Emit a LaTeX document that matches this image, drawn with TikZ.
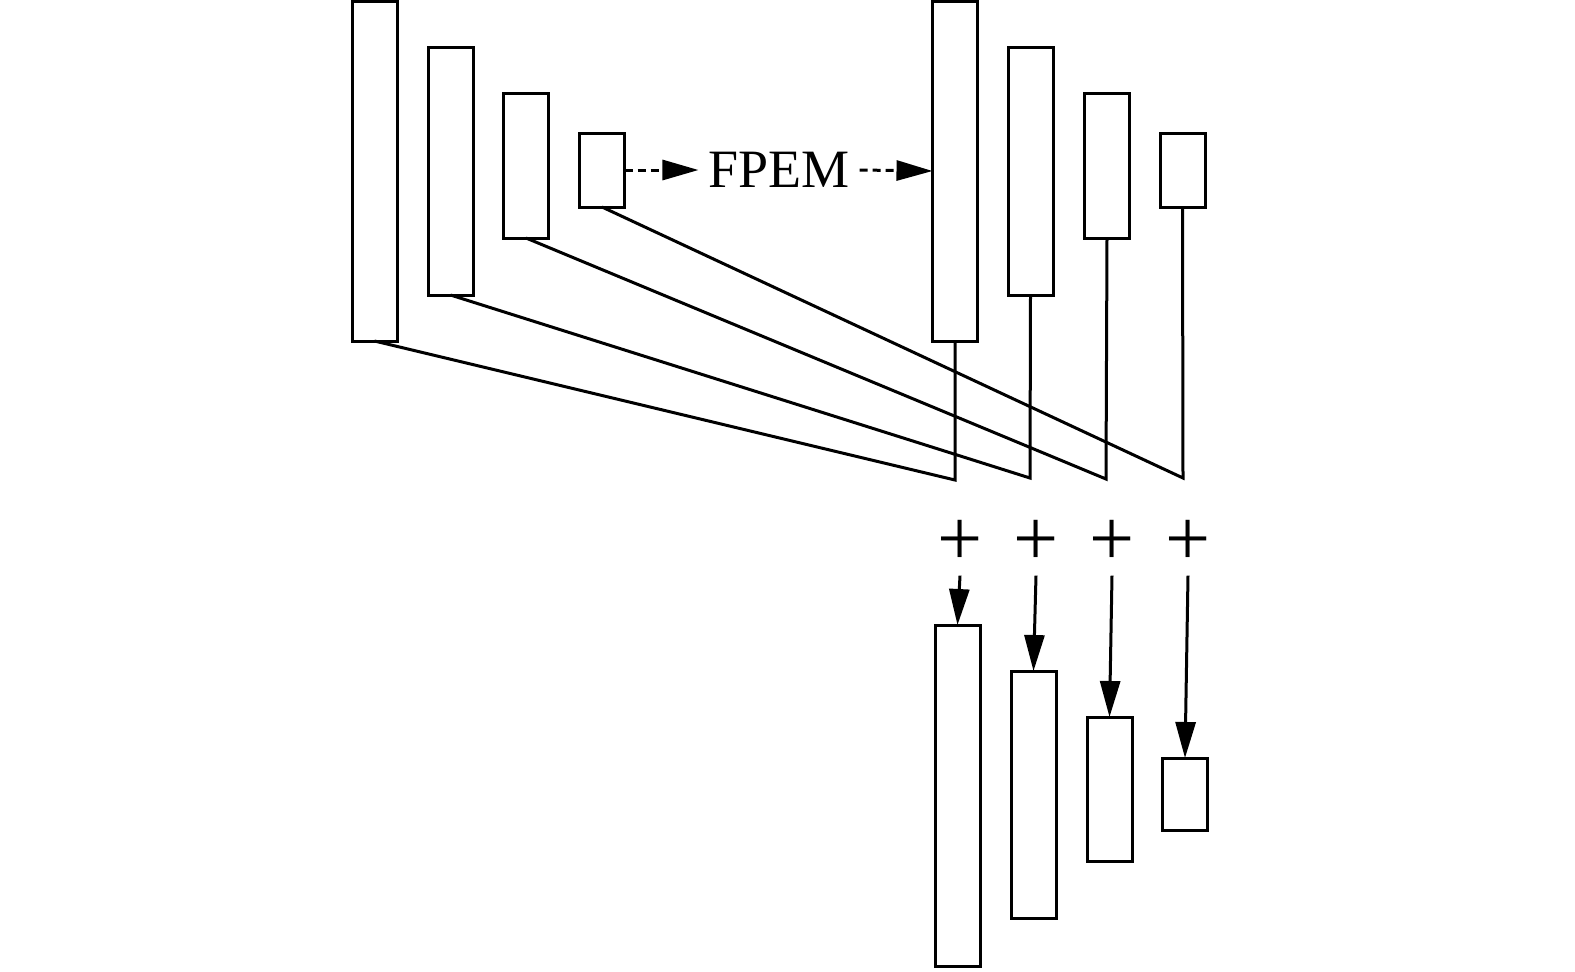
\documentclass[tikz,border=0pt]{standalone}
\usepackage{fontspec}
\setmainfont{Liberation Serif}
\usetikzlibrary{arrows.meta,positioning}

\begin{document}
\begin{tikzpicture}[x=0.5pt,y=-0.5pt,line width=1.5pt,
 every node/.style={inner sep=0pt,outer sep=0pt},
 blk/.style={draw,line width=1.5pt,minimum width=22.5pt},
 tip/.style={-{Triangle[length=18pt,width=10pt]}},
 dsh/.style={tip,dash pattern=on 4pt off 2.5pt}]
\useasboundingbox (0,0) rectangle (1575,971);
% backbone
\node[blk,minimum height=170pt] (e1) at (374.5,171) {};
\node[blk,minimum height=124pt] (e2) at (450.5,171) {};
\node[blk,minimum height=72.5pt] (e3) at (526,165.5) {};
\node[blk,minimum height=37pt] (e4) at (602,170) {};
% FPEM output
\node[blk,minimum height=170pt] (f1) at (955,171) {};
\node[blk,minimum height=124pt] (f2) at (1030.5,171) {};
\node[blk,minimum height=72.5pt] (f3) at (1107,165.5) {};
\node[blk,minimum height=37pt] (f4) at (1182.5,170) {};
\node[font=\fontsize{27}{27}\selectfont,inner sep=5pt] (fpem) at (779,170) {FPEM};
\draw[dsh] (e4.east)--(fpem.west);\draw[dsh] (fpem.east)--(f1.west);
% skip connections
\coordinate (j1) at (955,480);\coordinate (j2) at (1030,478);\coordinate (j3) at (1106,479);\coordinate (j4) at (1183,478);
\draw (e1.south)--(j1)--(f1.south);\draw (e2.south)--(j2)--(f2.south);\draw (e3.south)--(j3)--(f3.south);\draw (e4.south)--(j4)--(f4.south);
% sum
\node[font=\fontsize{40}{40}\selectfont,inner sep=5pt] (p1) at (960,543) {+};
\node[font=\fontsize{40}{40}\selectfont,inner sep=5pt] (p2) at (1036,543) {+};
\node[font=\fontsize{40}{40}\selectfont,inner sep=5pt] (p3) at (1112,543) {+};
\node[font=\fontsize{40}{40}\selectfont,inner sep=5pt] (p4) at (1188,543) {+};
\node[blk,minimum height=170.5pt] (o1) at (957.5,795.5) {};
\node[blk,minimum height=123.5pt] (o2) at (1033.5,794.5) {};
\node[blk,minimum height=72pt] (o3) at (1109.5,789) {};
\node[blk,minimum height=36pt] (o4) at (1185,794) {};
\draw[tip] (p1.south)--(o1.north);\draw[tip] (p2.south)--(o2.north);\draw[tip] (p3.south)--(o3.north);\draw[tip] (p4.south)--(o4.north);
\end{tikzpicture}
\end{document}
